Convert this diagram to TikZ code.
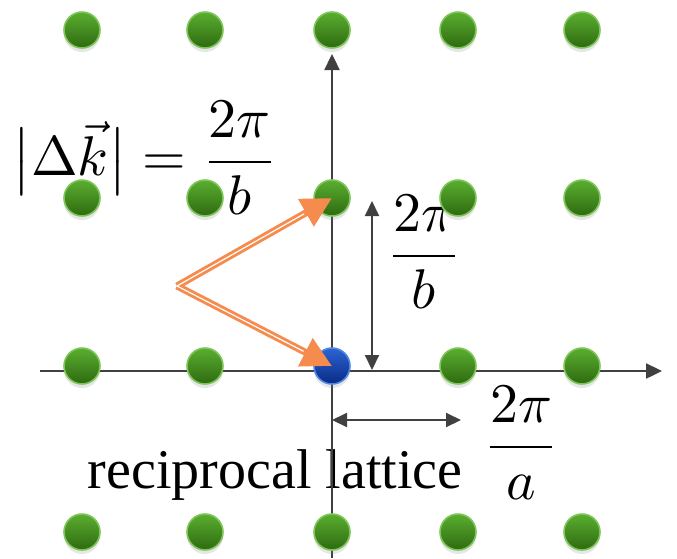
\documentclass[tikz,border=0pt]{standalone}
\usepackage{amsmath}
\usepackage{graphicx}
\usepackage{fontspec}
\setmainfont{Liberation Serif}
\usetikzlibrary{arrows.meta,calc,shadows}
\definecolor{Leaf}{HTML}{5AAE30}
\definecolor{LeafDark}{HTML}{2E6A10}
\definecolor{LeafRim}{HTML}{7EC55A}
\definecolor{Deep}{HTML}{2C64D2}
\definecolor{DeepDark}{HTML}{0A2A85}
\definecolor{DeepRim}{HTML}{4F86E3}
\definecolor{Axis}{HTML}{404040}
\definecolor{Coral}{HTML}{F68B4E}
\newcommand{\bigmath}[1]{\scalebox{5.6}{$\displaystyle #1$}}

\begin{document}
\begin{tikzpicture}[x=1pt,y=-1pt,
  site/.style={circle, minimum size=36pt, inner sep=0pt, line width=1.6pt, draw=LeafRim,
    top color=Leaf, bottom color=LeafDark,
    drop shadow={shadow xshift=0pt, shadow yshift=-4pt, opacity=0.2}},
  origin/.style={site, draw=DeepRim, top color=Deep, bottom color=DeepDark},
  axisline/.style={Axis, line width=2.4pt, -{Triangle[length=16pt,width=15pt]}},
  gap/.style={Axis, line width=2pt, {Triangle[length=15pt,width=14pt]}-{Triangle[length=15pt,width=14pt]}},
  kvec/.style={Coral, line width=7pt, -{Triangle[length=30pt,width=30pt]}},
  formula/.style={font=\normalsize, inner sep=0pt},
  big/.style={font=\fontsize{56}{60}\selectfont, inner sep=0pt}]
  \useasboundingbox (0,0) rectangle (677,558);

  % labels
  \node[formula] (eq) at (145,158) {\bigmath{\bigl|\Delta\vec{k}\bigr| = \frac{2\pi}{b}}};
  \node[formula] (fb) at (424,252) {\bigmath{\frac{2\pi}{b}}};
  \node[formula] (fa) at (521,443) {\bigmath{\frac{2\pi}{a}}};
  \node[big, anchor=base] (lbl) at (275,488) {reciprocal lattice};

  % axes
  \coordinate (xl) at (40,371);
  \coordinate (xr) at (662,371);
  \coordinate (yb) at (332,558);
  \coordinate (yt) at (332,54);
  \draw[axisline] (xl) -- (xr);
  \draw[axisline] (yb) -- (yt);

  % lattice points
  \foreach \x [count=\i] in {82,205,332,458,582}
    \foreach \y [count=\j] in {30,198,366,532} {
      \ifnum\i\j=33 \def\kind{origin}\else\def\kind{site}\fi
      \node[\kind] (g\i\j) at (\x,\y) {};
    }

  % spacings
  \coordinate (bt) at (372,201);
  \coordinate (bb) at (372,370);
  \coordinate (al) at (332,420);
  \coordinate (ar) at (461,420);
  \draw[gap] (bb) -- (bt);
  \draw[gap] (al) -- (ar);

  % scattering vectors
  \coordinate (kin) at (177,286);
  \draw[kvec] (kin) -- (g32.center);
  \draw[kvec] (kin) -- (g33.center);
  \draw[white, line width=1.2pt, shorten >=32pt] (kin) -- (g32.center);
  \draw[white, line width=1.2pt, shorten >=32pt] (kin) -- (g33.center);
\end{tikzpicture}
\end{document}
